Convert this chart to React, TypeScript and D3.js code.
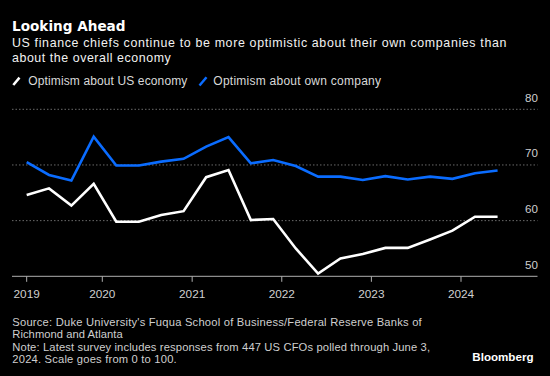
import React from "react";
import * as d3 from "d3";

const dates = [
  "2019-02-27","2019-05-29","2019-08-28","2019-11-27",
  "2020-02-27","2020-05-29","2020-08-28","2020-11-27",
  "2021-02-27","2021-05-29","2021-08-28","2021-11-27",
  "2022-02-27","2022-05-29","2022-08-28","2022-11-27",
  "2023-02-27","2023-05-29","2023-08-28","2023-11-27",
  "2024-02-27","2024-05-29",
];
const usEconomy = [64.6, 65.8, 62.7, 66.6, 59.8, 59.8, 61.0, 61.7, 67.8, 69.1, 60.1, 60.3,
  55.0, 50.5, 53.2, 54.0, 55.1, 55.1, 56.6, 58.2, 60.7, 60.7];
const ownCompany = [70.5, 68.2, 67.2, 75.1, 69.9, 69.9, 70.6, 71.1, 73.3, 75.0, 70.3, 70.9,
  69.8, 67.9, 67.9, 67.3, 68.0, 67.4, 67.9, 67.5, 68.5, 69.0];
const yTicks = [50, 60, 70, 80];
const xTickDates = ["2019-02-27", "2020-01-01", "2021-01-01", "2022-01-01", "2023-01-01", "2024-01-01"];
const xTickLabels = ["2019", "2020", "2021", "2022", "2023", "2024"];
const seriesNames = ["Optimism about US economy", "Optimism about own company"];

const W = 550, H = 376;
const SANS = "'Liberation Sans', Arial, sans-serif";
const BOLD = "'DejaVu Sans', sans-serif";

export default function App() {
  const parse = d3.utcParse("%Y-%m-%d");
  const x = d3.scaleUtc().domain([parse("2020-01-01")!, parse("2024-01-01")!]).range([102.3, 461]);
  const y = d3.scaleLinear().domain([50, 80]).range([276.3, 109.3]);
  const line = d3.line<[Date, number]>().x((d) => x(d[0])).y((d) => y(d[1]));
  const pts = (vals: number[]) => dates.map((d, i) => [parse(d)!, vals[i]] as [Date, number]);
  const left = 12, right = 537.5;

  return (
    <svg width={W} height={H} style={{ position: "absolute", left: 0, top: 0, background: "#000" }}>
      <rect width={W} height={H} fill="#000" />
      <text x={12} y={31} fill="#fff" fontFamily={BOLD} fontWeight="bold" fontSize={13.6}>Looking Ahead</text>
      <text x={12} y={47.3} fill="#f2f2f2" fontFamily={SANS} fontSize={12.4} textLength={494.4} lengthAdjust="spacing">
        US finance chiefs continue to be more optimistic about their own companies than
      </text>
      <text x={12} y={61.7} fill="#f2f2f2" fontFamily={SANS} fontSize={12.4} textLength={158.7} lengthAdjust="spacing">
        about the overall economy
      </text>

      {/* legend */}
      <line x1={13.3} y1={85} x2={19.5} y2={77.6} stroke="#fff" strokeWidth={2.5} />
      <text x={28.3} y={85} fill="#d9d9d9" fontFamily={SANS} fontSize={12} textLength={159} lengthAdjust="spacing">{seriesNames[0]}</text>
      <line x1={199.5} y1={85.5} x2={206.5} y2={77.2} stroke="#0a6cff" strokeWidth={2.5} />
      <text x={213.3} y={85} fill="#d9d9d9" fontFamily={SANS} fontSize={12} textLength={167.7} lengthAdjust="spacing">{seriesNames[1]}</text>

      {/* gridlines */}
      {yTicks.filter((t) => t !== 50).map((t) => (
        <line key={t} x1={left} x2={right} y1={y(t)} y2={y(t)} stroke="#6a6a6a" strokeWidth={1} strokeDasharray="1.5,2" />
      ))}
      {yTicks.map((t) => (
        <text key={"l" + t} x={538} y={y(t) - 7.5} textAnchor="end" fill="#cfcfcf" fontFamily={SANS} fontSize={11.6}>{t}</text>
      ))}

      {/* baseline and ticks */}
      <line x1={left} x2={right} y1={y(50)} y2={y(50)} stroke="#b0b0b0" strokeWidth={1} />
      {xTickDates.map((d, i) => {
        const xx = x(parse(d)!);
        return (
          <g key={d}>
            <line x1={xx} x2={xx} y1={y(50)} y2={y(50) + 5.5} stroke="#b0b0b0" strokeWidth={1} />
            <text x={xx} y={297.5} textAnchor="middle" fill="#cfcfcf" fontFamily={SANS} fontSize={11.8}>{xTickLabels[i]}</text>
          </g>
        );
      })}

      {/* lines */}
      <path d={line(pts(ownCompany))!} fill="none" stroke="#0a6cff" strokeWidth={2.6} strokeLinejoin="miter" />
      <path d={line(pts(usEconomy))!} fill="none" stroke="#fff" strokeWidth={2.6} strokeLinejoin="miter" />

      {/* footer */}
      <g fill="#cfcfcf" fontFamily={SANS} fontSize={11.2}>
        <text x={12.3} y={325.5} textLength={409.4} lengthAdjust="spacing">Source: Duke University's Fuqua School of Business/Federal Reserve Banks of</text>
        <text x={12.3} y={338} textLength={110.4} lengthAdjust="spacing">Richmond and Atlanta</text>
        <text x={12.3} y={350.5} textLength={417.7} lengthAdjust="spacing">Note: Latest survey includes responses from 447 US CFOs polled through June 3,</text>
        <text x={12.3} y={363} textLength={164.4} lengthAdjust="spacing">2024. Scale goes from 0 to 100.</text>
      </g>
      <text x={533.5} y={361} textAnchor="end" fill="#fff" fontFamily={SANS} fontWeight="bold" fontSize={11.6}>Bloomberg</text>
    </svg>
  );
}
